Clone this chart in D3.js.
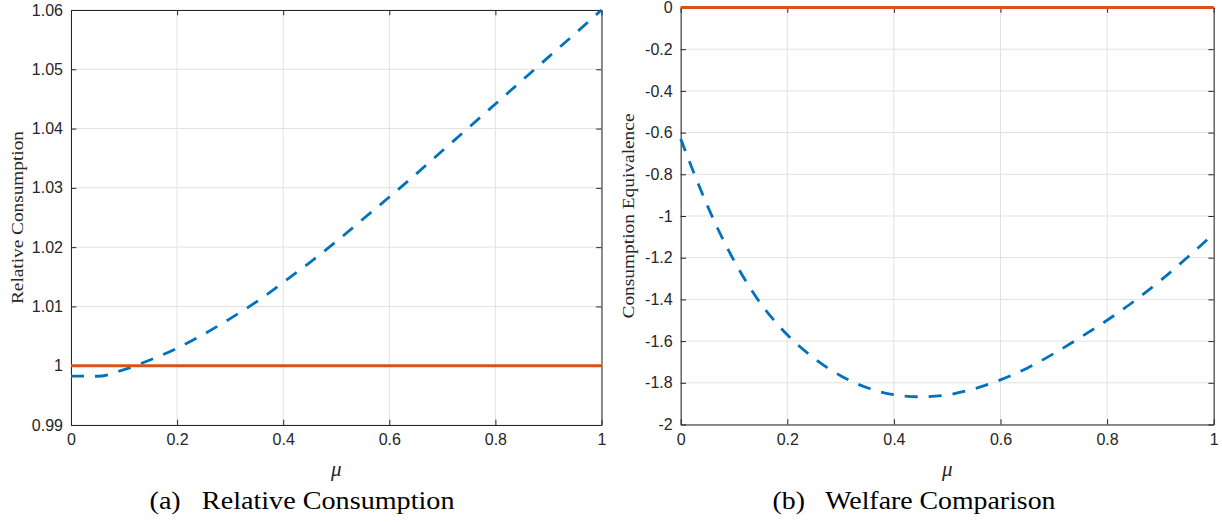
<!DOCTYPE html>
<html>
<head>
<meta charset="utf-8">
<script src="https://cdn.jsdelivr.net/npm/d3@7/dist/d3.min.js"></script>
<style>
    body{margin:0;background:#fff;}
    #fig{width:1222px;height:522px;}
</style>
</head>
<body>
<div id="fig"></div>
<script>
// (a) relative consumption vs mu
var muA=[0,0.05,0.1,0.15,0.2,0.25,0.3,0.35,0.4,0.45,0.5,0.55,0.6,0.65,0.7,0.75,0.8,0.85,0.9,0.95,1];
var consA=[0.99825,0.99822,0.99935,1.001,1.00295,1.0053,1.00795,1.0108,1.01405,1.0174,1.02095,1.0247,1.02845,1.0323,1.03625,1.0402,1.04415,1.0481,1.05205,1.056,1.06];
// (b) consumption equivalence vs mu
var muB=[0,0.025,0.05,0.075,0.1,0.125,0.15,0.175,0.2,0.25,0.3,0.35,0.4,0.45,0.5,0.55,0.6,0.65,0.7,0.75,0.8,0.85,0.9,0.95,1];
var welfB=[-0.629,-0.795,-0.95,-1.09,-1.214,-1.324,-1.42,-1.5,-1.57,-1.682,-1.766,-1.824,-1.857,-1.867,-1.858,-1.829,-1.786,-1.73,-1.66,-1.582,-1.5,-1.41,-1.31,-1.2,-1.085];
// benchmark (solid) lines
var muEnds=[0,1];
var refA=[1,1];
var refB=[0,0];
var xTicks=[0,0.2,0.4,0.6,0.8,1];
var yTicksA=[0.99,1,1.01,1.02,1.03,1.04,1.05,1.06];
var yTicksB=[-2,-1.8,-1.6,-1.4,-1.2,-1,-0.8,-0.6,-0.4,-0.2,0];

var svg=d3.select("#fig")
    .append("svg")
    .attr("width",1222)
    .attr("height",522);

// matlab style labels, plain hyphen for minus
function fmt(d){
    return String(+d.toFixed(4));
}

function drawPanel(p){
    var x=d3.scaleLinear().domain([0,1]).range([p.left,p.right]);
    var y=d3.scaleLinear().domain(p.ydom).range([p.bottom,p.top]);
    var g=svg.append("g");
    var tk=5.3;

    //grid
    g.selectAll(".gx").data(xTicks).enter().append("line")
        .attr("x1",function(d){return x(d)}).attr("x2",function(d){return x(d)})
        .attr("y1",p.top).attr("y2",p.bottom)
        .style("stroke","#e1e1e1").style("stroke-width",1);
    g.selectAll(".gy").data(p.yticks).enter().append("line")
        .attr("x1",p.left).attr("x2",p.right)
        .attr("y1",function(d){return y(d)}).attr("y2",function(d){return y(d)})
        .style("stroke","#e1e1e1").style("stroke-width",1);

    //axes, ticks pointing in, mirrored on top/right
    var axB=d3.axisBottom(x).tickValues(xTicks).tickSizeInner(-tk).tickSizeOuter(0).tickPadding(9).tickFormat(fmt);
    var axT=d3.axisTop(x).tickValues(xTicks).tickSizeInner(-tk).tickSizeOuter(0).tickFormat("");
    var axL=d3.axisLeft(y).tickValues(p.yticks).tickSizeInner(-tk).tickSizeOuter(0).tickPadding(8).tickFormat(fmt);
    var axR=d3.axisRight(y).tickValues(p.yticks).tickSizeInner(-tk).tickSizeOuter(0).tickFormat("");
    g.append("g").attr("transform","translate(0,"+p.bottom+")").call(axB);
    g.append("g").attr("transform","translate(0,"+p.top+")").call(axT);
    g.append("g").attr("transform","translate("+p.left+",0)").call(axL);
    g.append("g").attr("transform","translate("+p.right+",0)").call(axR);
    g.selectAll(".domain").style("stroke","#262626").style("stroke-width",1);
    g.selectAll(".tick line").style("stroke","#262626");
    g.selectAll(".tick text")
        .style("font-family","'Liberation Sans',Arial,sans-serif")
        .style("font-size","16px")
        .style("fill","#262626");

    //data
    var line=d3.line()
        .x(function(d){return x(d[0])})
        .y(function(d){return y(d[1])})
        .curve(d3.curveMonotoneX);
    g.append("path")
        .datum(d3.zip(p.mu,p.vals))
        .attr("d",line)
        .style("fill","none")
        .style("stroke","#0072BD")
        .style("stroke-width",2.8)
        .style("stroke-dasharray","13,11");
    g.append("path")
        .datum(d3.zip(muEnds,p.ref))
        .attr("d",line)
        .style("fill","none")
        .style("stroke","#D95319")
        .style("stroke-width",3);

    //labels
    var cy=(p.top+p.bottom)/2;
    g.append("text")
        .attr("transform","translate("+p.ylabX+","+cy+") rotate(-90)")
        .attr("text-anchor","middle")
        .attr("dy","0.35em")
        .attr("textLength",p.ylabLen)
        .attr("lengthAdjust","spacingAndGlyphs")
        .style("font-family","'Liberation Serif',serif")
        .style("font-size","17px")
        .style("fill","#262626")
        .text(p.ylab);
    g.append("text")
        .attr("x",(p.left+p.right)/2)
        .attr("y",476)
        .attr("text-anchor","middle")
        .style("font-family","'Liberation Serif',serif")
        .style("font-style","italic")
        .style("font-size","21px")
        .style("fill","#262626")
        .text("\u03bc");
    g.append("text")
        .attr("x",p.capX)
        .attr("y",509)
        .attr("text-anchor","middle")
        .attr("textLength",p.capLen)
        .attr("lengthAdjust","spacingAndGlyphs")
        .style("font-family","'Liberation Serif',serif")
        .style("font-size","26px")
        .style("fill","#000")
        .text(p.cap);
}

drawPanel({left:71,right:601.5,top:10,bottom:425,ydom:[0.99,1.06],yticks:yTicksA,
    mu:muA,vals:consA,ref:refA,ylab:"Relative Consumption",ylabX:17,ylabLen:173,
    cap:"(a)\u2002 Relative Consumption",capX:302,capLen:305});
drawPanel({left:680.7,right:1213.7,top:7.5,bottom:424.5,ydom:[-2,0],yticks:yTicksB,
    mu:muB,vals:welfB,ref:refB,ylab:"Consumption Equivalence",ylabX:628,ylabLen:205,
    cap:"(b)\u2002 Welfare Comparison",capX:914,capLen:283});
</script>
</body>
</html>
